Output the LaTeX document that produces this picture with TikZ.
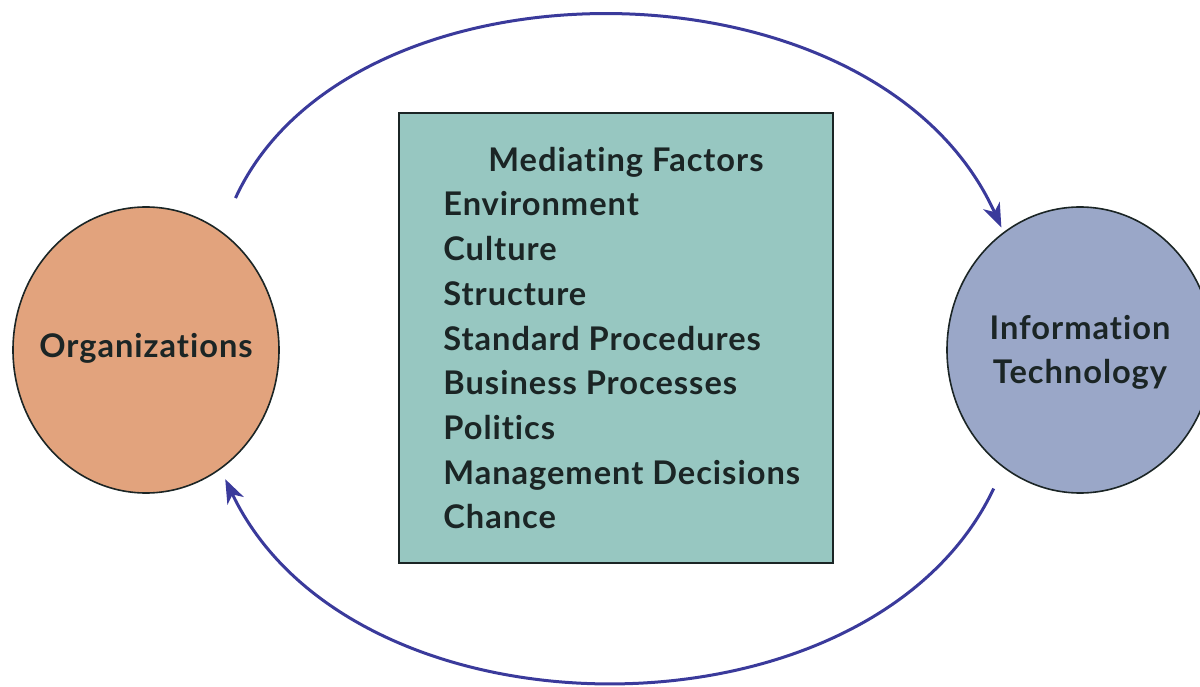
\documentclass[tikz,border=0pt]{standalone}
\usepackage{fontspec}
\setmainfont{Lato}[BoldFont={Lato Bold}, LetterSpace=3.0, Ligatures=NoCommon]
\usetikzlibrary{arrows.meta,shapes.geometric,positioning}

\definecolor{orgfill}{HTML}{E2A37D}
\definecolor{itfill}{HTML}{9AA7C8}
\definecolor{boxfill}{HTML}{97C7C1}
\definecolor{flowblue}{HTML}{3A3A9B}
\definecolor{inkdark}{HTML}{1B2525}

\tikzset{
	label font/.style={font=\fontsize{16.3}{22}\selectfont\bfseries, text=inkdark, inner sep=0pt},
	blob/.style={ellipse, draw=inkdark, line width=0.8pt, minimum width=133pt, minimum height=143pt, inner sep=0pt},
	factorbox/.style={rectangle, draw=inkdark, line width=1.4pt, fill=boxfill, minimum width=217pt, minimum height=225pt},
	flow/.style={draw=flowblue, line width=1.5pt, -{Stealth[length=12pt, width=9pt, inset=3.5pt]}},
}

\begin{document}
\begin{tikzpicture}[x=0.5pt, y=0.5pt]
	\useasboundingbox (0,0) rectangle (1200,686);

	\node[blob, fill=orgfill, label={[name=orgtext, label font, yshift=1pt]center:Organizations}] (org) at (146,336) {};
	\node[blob, fill=itfill, label={[name=ittext, label font, align=center, yshift=-1pt]center:Information\\Technology}] (it) at (1080,336) {};
	\node[factorbox] (box) at (616,348) {};

	\node[label font, anchor=base] (head) at (626,514.3) {Mediating Factors};
	\foreach \fac [count=\i from 0] in {Environment, Culture, Structure, Standard Procedures, Business Processes, Politics, Management Decisions, Chance}
		\node[label font, anchor=base west] (fac\i) at (443,470-44.7*\i) {\fac};

	\draw[flow, shorten <=17.9pt, shorten >=2.5pt] (org.58) to[out=65.4, in=114.3, looseness=1.01] (it.123);
	\draw[flow, shorten <=11.4pt, shorten >=5.4pt] (it.237) to[out=244.7, in=295.5, looseness=1.01] (org.302);
\end{tikzpicture}
\end{document}
